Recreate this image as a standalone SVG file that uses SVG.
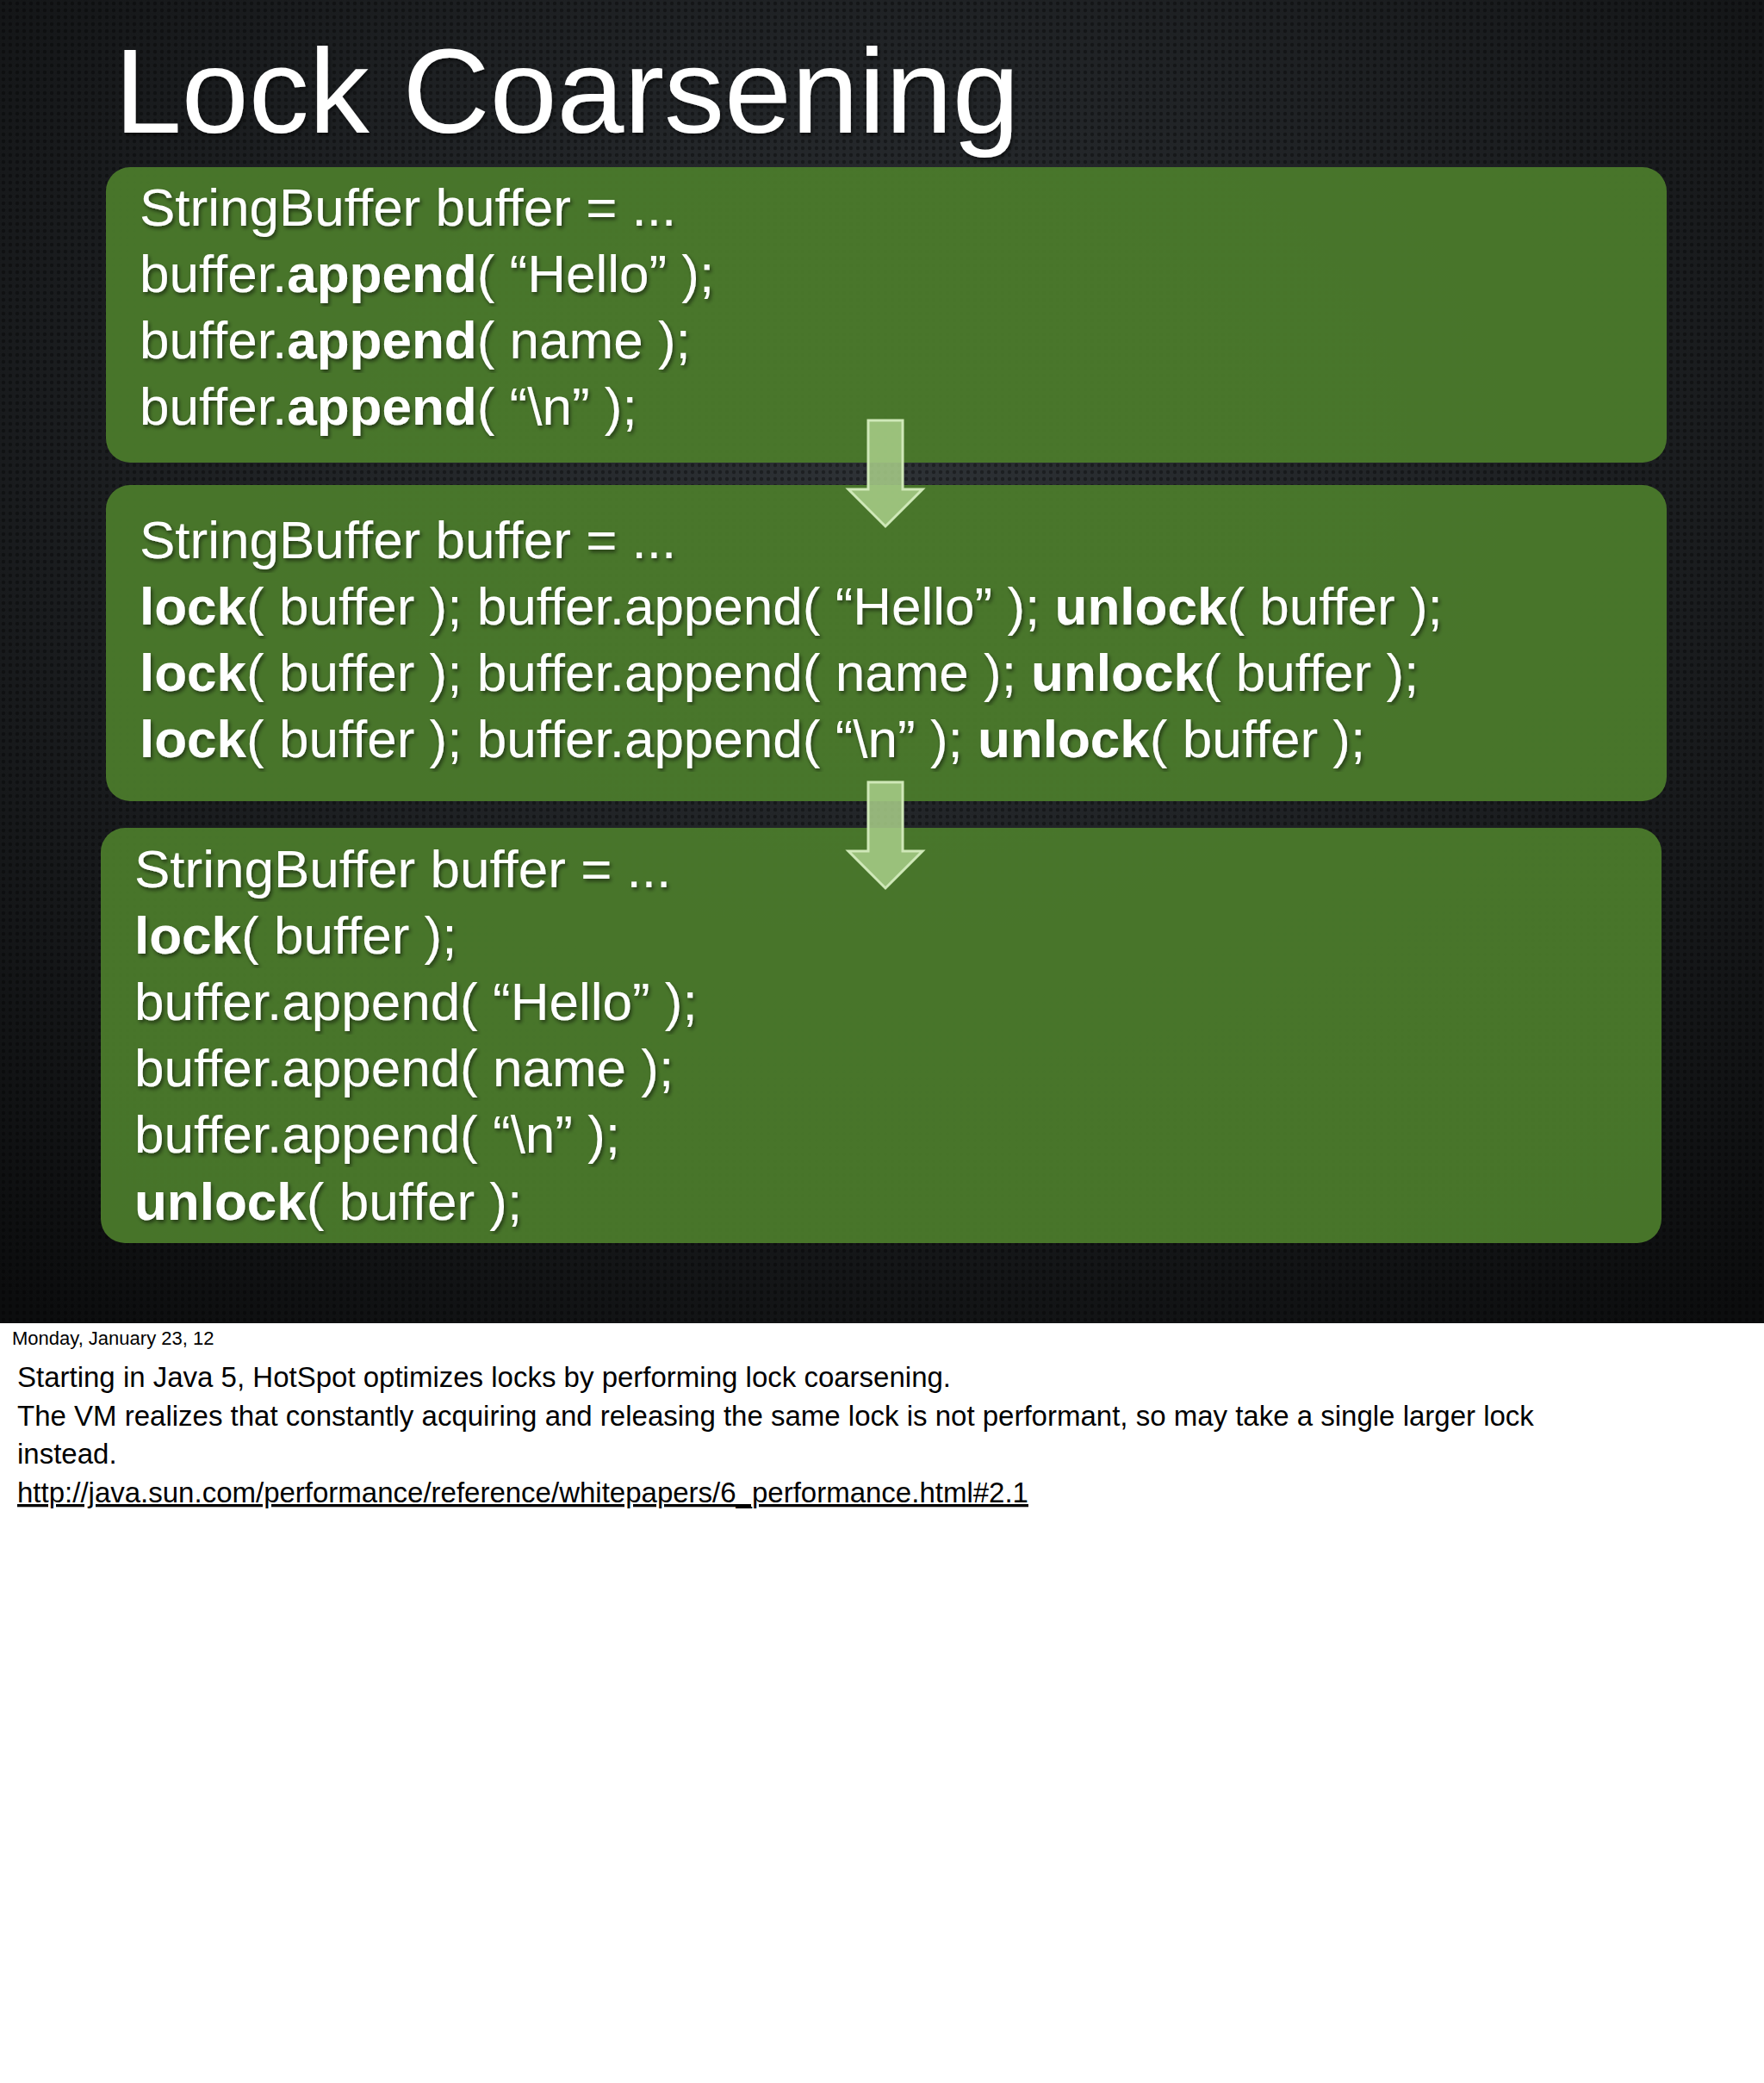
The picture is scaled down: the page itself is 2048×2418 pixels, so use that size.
<svg xmlns="http://www.w3.org/2000/svg" width="2048" height="2418" viewBox="0 0 2048 2418">
<defs>
<radialGradient id="bg" cx="0.5" cy="0.35" r="0.8">
<stop offset="0" stop-color="#2e3236"/><stop offset="1" stop-color="#0c0d0e"/>
</radialGradient>
<pattern id="mesh" width="8" height="8" patternUnits="userSpaceOnUse">
<circle cx="4" cy="4" r="2.2" fill="#000" opacity="0.35"/>
</pattern>
<filter id="sh" x="-5%" y="-5%" width="110%" height="110%"><feDropShadow dx="2" dy="3" stdDeviation="2" flood-color="#000" flood-opacity="0.5"/></filter>
</defs>
<style>
.box{fill:#4b7a2b;fill-opacity:0.95}
.code{font-family:"Liberation Sans",Arial,sans-serif;font-size:62px;fill:#fff;filter:url(#sh)}
.b{font-weight:bold}
.arr{fill:#a9cf8a;fill-opacity:0.85;stroke:#cfe8b8;stroke-width:3}
.note{font-family:"Liberation Sans",Arial,sans-serif;font-size:33px;fill:#000}
</style>
<rect width="2048" height="2418" fill="#fff"/>
<rect width="2048" height="1536" fill="url(#bg)"/>
<rect width="2048" height="1536" fill="url(#mesh)"/>
<text x="133" y="154" font-family="Liberation Sans,Arial,sans-serif" font-size="140" fill="#fff" filter="url(#sh)">Lock Coarsening</text>
<g id="box1">
<rect class="box" x="123" y="194" width="1812" height="343" rx="28"/>
<text class="code" x="162" y="262">StringBuffer buffer = ...</text>
<text class="code" x="162" y="339">buffer.<tspan class="b">append</tspan>( “Hello” );</text>
<text class="code" x="162" y="416">buffer.<tspan class="b">append</tspan>( name );</text>
<text class="code" x="162" y="493">buffer.<tspan class="b">append</tspan>( “\n” );</text>
</g>
<g id="box2">
<rect class="box" x="123" y="563" width="1812" height="367" rx="28"/>
<text class="code" x="162" y="648">StringBuffer buffer = ...</text>
<text class="code" x="162" y="725"><tspan class="b">lock</tspan>( buffer ); buffer.append( “Hello” ); <tspan class="b">unlock</tspan>( buffer );</text>
<text class="code" x="162" y="802"><tspan class="b">lock</tspan>( buffer ); buffer.append( name ); <tspan class="b">unlock</tspan>( buffer );</text>
<text class="code" x="162" y="879"><tspan class="b">lock</tspan>( buffer ); buffer.append( “\n” ); <tspan class="b">unlock</tspan>( buffer );</text>
</g>
<g id="box3">
<rect class="box" x="117" y="961" width="1812" height="482" rx="28"/>
<text class="code" x="156" y="1030">StringBuffer buffer = ...</text>
<text class="code" x="156" y="1107"><tspan class="b">lock</tspan>( buffer );</text>
<text class="code" x="156" y="1184">buffer.append( “Hello” );</text>
<text class="code" x="156" y="1261">buffer.append( name );</text>
<text class="code" x="156" y="1338">buffer.append( “\n” );</text>
<text class="code" x="156" y="1416"><tspan class="b">unlock</tspan>( buffer );</text>
</g>
<g id="connectors">
<path class="arr" d="M1008 488 H1048 V568 H1071 L1028 611 L985 568 H1008 Z"/>
<path class="arr" d="M1008 908 H1048 V988 H1071 L1028 1031 L985 988 H1008 Z"/>
</g>
<text x="14" y="1561" font-family="Liberation Sans,Arial,sans-serif" font-size="22" fill="#000">Monday, January 23, 12</text>
<text class="note" x="20" y="1610">Starting in Java 5, HotSpot optimizes locks by performing lock coarsening.</text>
<text class="note" x="20" y="1655">The VM realizes that constantly acquiring and releasing the same lock is not performant, so may take a single larger lock</text>
<text class="note" x="20" y="1699">instead.</text>
<text class="note" x="20" y="1744" text-decoration="underline">http://java.sun.com/performance/reference/whitepapers/6_performance.html#2.1</text>
</svg>
